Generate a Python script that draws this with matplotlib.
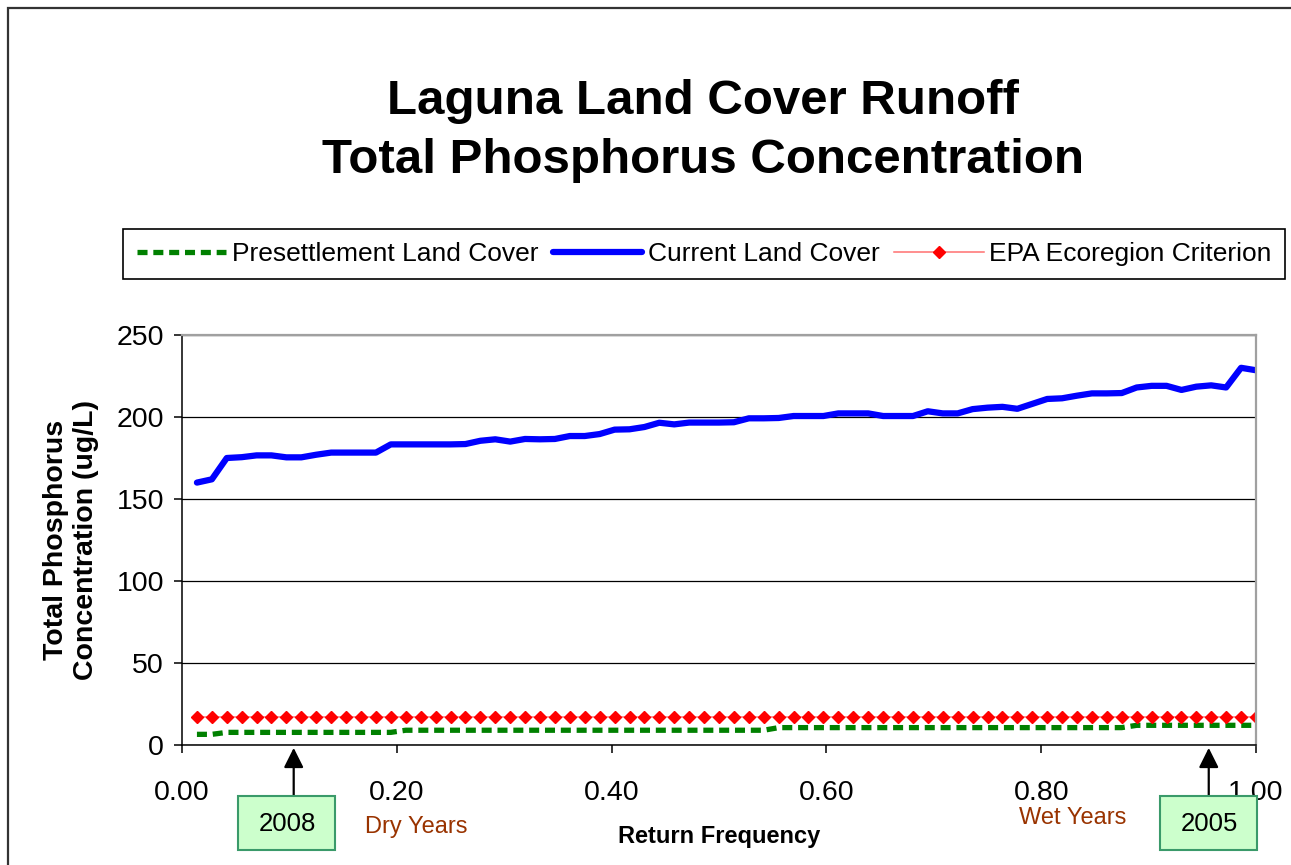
import matplotlib
matplotlib.use("Agg")
import matplotlib.pyplot as plt
from matplotlib.patches import Rectangle
from matplotlib.ticker import FormatStrFormatter

plt.rcParams['font.family'] = ['Liberation Sans', 'DejaVu Sans']

# return frequency of each ranked year
freq = [0.0139, 0.0278, 0.0417, 0.0556, 0.0694, 0.0833, 0.0972, 0.1111, 0.125, 0.1389,
        0.1528, 0.1667, 0.1806, 0.1944, 0.2083, 0.2222, 0.2361, 0.25, 0.2639, 0.2778,
        0.2917, 0.3056, 0.3194, 0.3333, 0.3472, 0.3611, 0.375, 0.3889, 0.4028, 0.4167,
        0.4306, 0.4444, 0.4583, 0.4722, 0.4861, 0.5, 0.5139, 0.5278, 0.5417, 0.5556,
        0.5694, 0.5833, 0.5972, 0.6111, 0.625, 0.6389, 0.6528, 0.6667, 0.6806, 0.6944,
        0.7083, 0.7222, 0.7361, 0.75, 0.7639, 0.7778, 0.7917, 0.8056, 0.8194, 0.8333,
        0.8472, 0.8611, 0.875, 0.8889, 0.9028, 0.9167, 0.9306, 0.9444, 0.9583, 0.9722,
        0.9861, 1.0]

current = [160, 162, 175, 175.5, 176.6, 176.6, 175.4, 175.4, 177, 178.3,
           178.3, 178.3, 178.3, 183.3, 183.3, 183.3, 183.3, 183.3, 183.5, 185.5,
           186.4, 185, 186.6, 186.4, 186.6, 188.4, 188.4, 189.6, 192.3, 192.5,
           193.9, 196.5, 195.5, 196.6, 196.6, 196.6, 196.8, 199.2, 199.2, 199.4,
           200.6, 200.6, 200.6, 202.2, 202.2, 202.2, 200.6, 200.6, 200.6, 203.5,
           202.2, 202.2, 204.8, 205.7, 206.2, 205, 208, 211, 211.4, 213,
           214.4, 214.4, 214.6, 218, 219, 219, 216.5, 218.5, 219.3, 218,
           230, 228.5]

presettlement = [6.5, 6.5,
                 7.7, 7.7, 7.7, 7.7, 7.7, 7.7, 7.7, 7.7, 7.7, 7.7, 7.7, 7.7,
                 9.0, 9.0, 9.0, 9.0, 9.0, 9.0, 9.0, 9.0, 9.0, 9.0, 9.0, 9.0, 9.0,
                 9.0, 9.0, 9.0, 9.0, 9.0, 9.0, 9.0, 9.0, 9.0, 9.0, 9.0, 9.0,
                 10.6, 10.6, 10.6, 10.6, 10.6, 10.6, 10.6, 10.6, 10.6, 10.6, 10.6, 10.6,
                 10.6, 10.6, 10.6, 10.6, 10.6, 10.6, 10.6, 10.6, 10.6, 10.6, 10.6, 10.6,
                 12.0, 12.0, 12.0, 12.0, 12.0, 12.0, 12.0, 12.0, 12.0]

epa_criterion = 17.0
epa = [epa_criterion] * len(freq)

years = ['2008', '2005']
year_freq = [0.104, 0.956]

W, H = 1291, 865
fig = plt.figure(figsize=(W / 100, H / 100), dpi=100)
ax = fig.add_axes([182 / W, 1 - 745 / H, 1074 / W, 410 / H])

ax.plot(freq, presettlement, color='#008000', lw=3.8, dashes=(1.9, 1.1),
        label='Presettlement Land Cover')
ax.plot(freq, current, color='#0000ff', lw=4.5, solid_joinstyle='round',
        solid_capstyle='round', label='Current Land Cover')
ax.plot(freq, epa, color='#ff7070', lw=1.1, marker='D', ms=6, mfc='red', mec='red',
        label='EPA Ecoregion Criterion')

ax.set_xlim(0, 1)
ax.set_ylim(0, 250)
ax.set_xticks([0, 0.2, 0.4, 0.6, 0.8, 1.0])
ax.set_yticks([0, 50, 100, 150, 200, 250])
ax.xaxis.set_major_formatter(FormatStrFormatter('%.2f'))
ax.tick_params(axis='both', direction='out', length=6, width=1.1, labelsize=20.5)
ax.tick_params(axis='x', pad=19)
ax.tick_params(axis='y', pad=7)
ax.yaxis.grid(True, color='black', lw=0.9)
ax.set_axisbelow(True)
for s in ['top', 'right']:
    ax.spines[s].set_color('#a0a0a0')
    ax.spines[s].set_linewidth(1.6)
for s in ['left', 'bottom']:
    ax.spines[s].set_color('black')
    ax.spines[s].set_linewidth(1.1)

ax.set_xlabel('Return Frequency', fontsize=17, fontweight='bold', va='center')
ax.xaxis.set_label_coords(0.5, -0.224)
ax.set_ylabel('Total Phosphorus\nConcentration (ug/L)', fontsize=20.5, fontweight='bold',
              va='center', linespacing=1.2)
ax.yaxis.set_label_coords(-0.103, 0.5)

fig.text(703 / W, 1 - 131 / H, 'Laguna Land Cover Runoff\nTotal Phosphorus Concentration',
         ha='center', va='center', fontsize=35.5, fontweight='bold', linespacing=1.4)

fig.text(416 / W, 1 - 827 / H, 'Dry Years', color='#993300', fontsize=17,
         ha='center', va='center')
fig.text(1073 / W, 1 - 818 / H, 'Wet Years', color='#993300', fontsize=17,
         ha='center', va='center')

# year call-outs
box_x = [238, 1160]
for yr, f, bx in zip(years, year_freq, box_x):
    ax.annotate('', xy=(f, -0.007), xycoords=('data', 'axes fraction'),
                xytext=(f, H - 796), textcoords=('data', 'figure pixels'),
                arrowprops=dict(arrowstyle='-|>,head_length=0.6,head_width=0.3',
                                color='black', lw=1.6, shrinkA=0, shrinkB=0,
                                mutation_scale=20),
                annotation_clip=False)
    fig.add_artist(Rectangle((bx / W, 1 - 850 / H), 97 / W, 54 / H,
                             transform=fig.transFigure, facecolor='#ccffcc',
                             edgecolor='#3a9a6a', lw=1.5))
    fig.text((bx + 49) / W, 1 - 824 / H, yr, fontsize=18.5, ha='center', va='center')

leg = fig.legend(loc='center', bbox_to_anchor=(704 / W, 1 - 254 / H), ncol=3,
                 fontsize=19, frameon=True, fancybox=False, edgecolor='black',
                 framealpha=1, handlelength=3.4, handletextpad=0.2,
                 columnspacing=0.55, borderpad=0.5)
leg.get_frame().set_linewidth(1.2)

fig.add_artist(Rectangle((8 / W, -0.05), 1.1, 1 - 8 / H + 0.05, transform=fig.transFigure,
                         fill=False, edgecolor='#333333', lw=1.6))

fig.savefig('out.png', dpi=100)
